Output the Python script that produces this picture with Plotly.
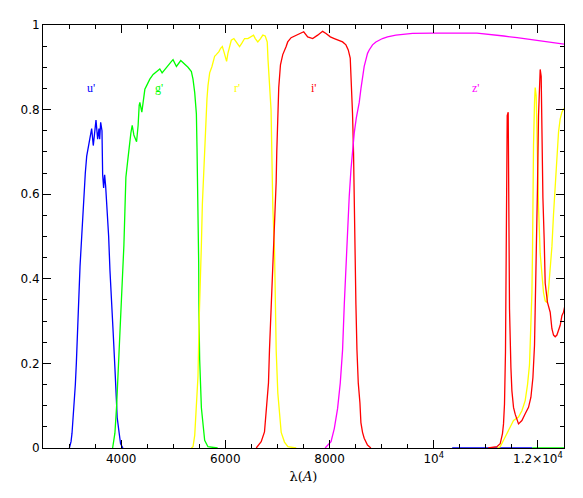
import plotly.graph_objects as go

# ---------------- data (wavelength in Angstrom, transmission) ----------------
u_wave = [3006, 3038, 3057, 3096, 3121, 3140, 3159, 3178, 3211, 3243, 3262, 3287, 3312,
          3339, 3364, 3402, 3434, 3465, 3498, 3517, 3549, 3574, 3588, 3607, 3632, 3645,
          3664, 3683, 3702, 3733, 3760, 3785, 3823, 3848, 3880, 3905, 3924, 3962, 3989,
          4034, None, 10354, 11890]
u_trans = [0, 0.015, 0.035, 0.095, 0.15, 0.2, 0.27, 0.33, 0.43, 0.50, 0.55, 0.61, 0.65,
           0.69, 0.71, 0.73, 0.755, 0.715, 0.76, 0.775, 0.73, 0.755, 0.73, 0.77, 0.75, 0.646,
           0.615, 0.646, 0.62, 0.56, 0.50, 0.42, 0.344, 0.27, 0.19, 0.128, 0.072, 0.035, 0.01,
           0, None, 0, 0]

g_wave = [3836, 3880, 3913, 3944, 3976, 4009, 4028, 4053, 4072, 4091, 4124, 4154, 4187,
          4212, 4244, 4296, 4326, 4346, 4359, 4397, 4422, 4455, 4487, 4550, 4614, 4679,
          4742, 4786, 4837, 4901, 4966, 4996, 5061, 5144, 5220, 5283, 5348, 5379, 5412,
          5444, 5456, 5475, 5488, 5494, 5507, 5540, 5570, 5603, 5666, 5852,
          None, 11890, 12520]
g_trans = [0, 0.035, 0.1, 0.18, 0.26, 0.34, 0.41, 0.48, 0.56, 0.64, 0.677, 0.716, 0.745,
           0.763, 0.74, 0.724, 0.763, 0.81, 0.817, 0.794, 0.825, 0.848, 0.856, 0.872, 0.883,
           0.89, 0.896, 0.887, 0.895, 0.906, 0.914, 0.918, 0.902, 0.916, 0.908, 0.9, 0.89,
           0.872, 0.84, 0.79, 0.71, 0.59, 0.44, 0.31, 0.21, 0.095, 0.05, 0.018, 0.003, 0,
           None, 0, 0]

r_wave = [5348, 5379, 5412, 5444, 5475, 5494, 5521, 5540, 5559, 5590, 5616, 5647, 5666,
          5699, 5743, 5794, 5826, 5877, 5909, 5942, 5972, 5999, 6024, 6049, 6082, 6114,
          6164, 6210, 6273, 6317, 6369, 6432, 6497, 6541, 6574, 6623, 6675, 6719, 6765,
          6804, 6819, 6848, 6877, 6892, 6911, 6944, 6957, 6976, 7007, 7040, 7072, 7135,
          7200, 7361,
          None,
          11218, 11275, 11371, 11467, 11531, 11627, 11692, 11755, 11800, 11838, 11865,
          11884, 11895, 11903, 11915, 11934, 11947, 11966, 11991, 12011, 12043, 12076,
          12107, 12139, 12172, 12203, 12235, 12268, 12299, 12331, 12364, 12395, 12427,
          12460, 12491, 12523]
r_trans = [0, 0.003, 0.03, 0.09, 0.17, 0.29, 0.375, 0.48, 0.577, 0.677, 0.763, 0.825, 0.856,
           0.887, 0.902, 0.926, 0.93, 0.937, 0.945, 0.949, 0.937, 0.922, 0.914, 0.933, 0.953,
           0.964, 0.968, 0.96, 0.949, 0.957, 0.968, 0.968, 0.972, 0.976, 0.968, 0.96, 0.968,
           0.976, 0.974, 0.96, 0.918, 0.85, 0.80, 0.70, 0.57, 0.465, 0.31, 0.23, 0.13, 0.077,
           0.037, 0.014, 0.003, 0,
           None,
           0, 0.003, 0.026, 0.05, 0.065, 0.073, 0.088, 0.112, 0.15, 0.197, 0.274,
           0.367, 0.46, 0.584, 0.716, 0.817, 0.852, 0.833, 0.67, 0.569, 0.46, 0.398,
           0.367, 0.348, 0.344, 0.375, 0.422, 0.476, 0.553, 0.616, 0.693, 0.747, 0.778,
           0.794, 0.801, 0.805]

i_wave = [6593, 6688, 6751, 6803, 6828, 6847, 6880, 6910, 6929, 6956, 6975, 6987, 7006,
          7025, 7058, 7102, 7167, 7197, 7262, 7358, 7421, 7504, 7580, 7676, 7772, 7867,
          7932, 8015, 8091, 8187, 8250, 8315, 8359, 8397, 8422, 8441, 8460, 8474, 8487,
          8506, 8526, 8551, 8583, 8602, 8633, 8665, 8728, 8793,
          None,
          11045, 11212, 11275, 11319, 11339, 11358, 11377, 11390, 11410, 11429, 11442,
          11454, 11481, 11500, 11531, 11563, 11627, 11692, 11755, 11819, 11865, 11903,
          11934, 11953, 11972, 11991, 12011, 12030, 12043, 12062, 12076, 12095, 12120,
          12139, 12183, 12235, 12268, 12299, 12331, 12364, 12427, 12460, 12491, 12523]
i_trans = [0, 0.015, 0.038, 0.108, 0.154, 0.232, 0.333, 0.41, 0.495, 0.573, 0.628, 0.70,
           0.782, 0.852, 0.906, 0.93, 0.949, 0.96, 0.97, 0.976, 0.98, 0.984, 0.972, 0.968,
           0.976, 0.985, 0.98, 0.972, 0.968, 0.964, 0.96, 0.953, 0.941, 0.922, 0.86, 0.79,
           0.70, 0.57, 0.465, 0.34, 0.232, 0.154, 0.107, 0.06, 0.037, 0.023, 0.007, 0,
           None,
           0, 0.003, 0.01, 0.034, 0.057, 0.104, 0.228, 0.507, 0.786, 0.794, 0.623,
           0.33, 0.19, 0.135, 0.096, 0.08, 0.057, 0.065, 0.081, 0.096, 0.12, 0.166,
           0.243, 0.344, 0.476, 0.616, 0.786, 0.879, 0.895, 0.879, 0.716, 0.592, 0.491,
           0.39, 0.344, 0.321, 0.282, 0.267, 0.263, 0.267, 0.29, 0.313, 0.321, 0.34]

z_wave = [7915, 8028, 8091, 8154, 8206, 8250, 8283, 8315, 8346, 8378, 8411, 8442, 8474,
          8513, 8570, 8602, 8633, 8665, 8698, 8729, 8761, 8825, 8889, 8953, 9016, 9112,
          9273, 9591, 9985, 10830, 11090, 11345, 11600, 11860, 12115, 12310, 12500]
z_trans = [0, 0.015, 0.046, 0.093, 0.154, 0.232, 0.34, 0.44, 0.525, 0.595, 0.658, 0.712,
           0.745, 0.78, 0.817, 0.849, 0.879, 0.902, 0.918, 0.933, 0.941, 0.953, 0.96, 0.964,
           0.968, 0.972, 0.976, 0.98, 0.981, 0.981, 0.978, 0.974, 0.97, 0.966, 0.962, 0.958,
           0.955]

band_names = ["u'", "g'", "r'", "i'", "z'"]
band_label_wave = [3421, 4723, 6215, 7708, 10819]
band_label_level = [0.85, 0.85, 0.85, 0.85, 0.85]
band_colors = ["#0000ff", "#00ff00", "#ffff00", "#ff0000", "#ff00ff"]

x_tick_vals = [4000, 6000, 8000, 10000, 12000]
x_tick_text = ["4000", "6000", "8000", "10<sup>4</sup>", "1.2×10<sup>4</sup>"]
y_tick_vals = [0, 0.2, 0.4, 0.6, 0.8, 1.0]
y_tick_text = ["0", "0.2", "0.4", "0.6", "0.8", "1"]

# ---------------- figure ----------------
fig = go.Figure()
series = [(u_wave, u_trans), (g_wave, g_trans), (r_wave, r_trans),
          (i_wave, i_trans), (z_wave, z_trans)]
for (w, t), col, name in zip(series, band_colors, band_names):
    fig.add_trace(go.Scatter(x=w, y=t, mode="lines", name=name,
                             line=dict(color=col, width=1.3), connectgaps=False,
                             showlegend=False, hoverinfo="skip"))

for name, xw, yl, col in zip(band_names, band_label_wave, band_label_level, band_colors):
    fig.add_annotation(x=xw, y=yl, xref="x", yref="y", text=name, showarrow=False,
                       font=dict(family="Liberation Serif", size=12, color=col))

tick_font = dict(family="DejaVu Sans", size=12, color="black")

fig.update_xaxes(range=[2500, 12500], tickmode="array", tickvals=x_tick_vals,
                 ticktext=x_tick_text, ticks="inside", ticklen=8, tickwidth=1,
                 tickcolor="black", showline=True, linecolor="black",
                 linewidth=1, mirror="allticks", showgrid=False, zeroline=False,
                 tickfont=tick_font,
                 minor=dict(ticks="inside", ticklen=4, tickwidth=1, tickcolor="black",
                            dtick=500, tick0=0, showgrid=False),
                 title=dict(text="λ(<i>A</i>)", standoff=6,
                            font=dict(family="DejaVu Serif", size=13, color="black")))
fig.update_yaxes(range=[0, 1], tickmode="array", tickvals=y_tick_vals,
                 ticktext=y_tick_text, ticks="inside", ticklen=8, tickwidth=1,
                 tickcolor="black", showline=True, linecolor="black",
                 linewidth=1, mirror="allticks", showgrid=False, zeroline=False,
                 tickfont=tick_font,
                 minor=dict(ticks="inside", ticklen=4, tickwidth=1, tickcolor="black",
                            dtick=0.05, tick0=0, showgrid=False))

fig.update_layout(width=575, height=490, margin=dict(l=35, r=19, t=10, b=50),
                  plot_bgcolor="white", paper_bgcolor="white", showlegend=False)

fig.write_html("out.html")
